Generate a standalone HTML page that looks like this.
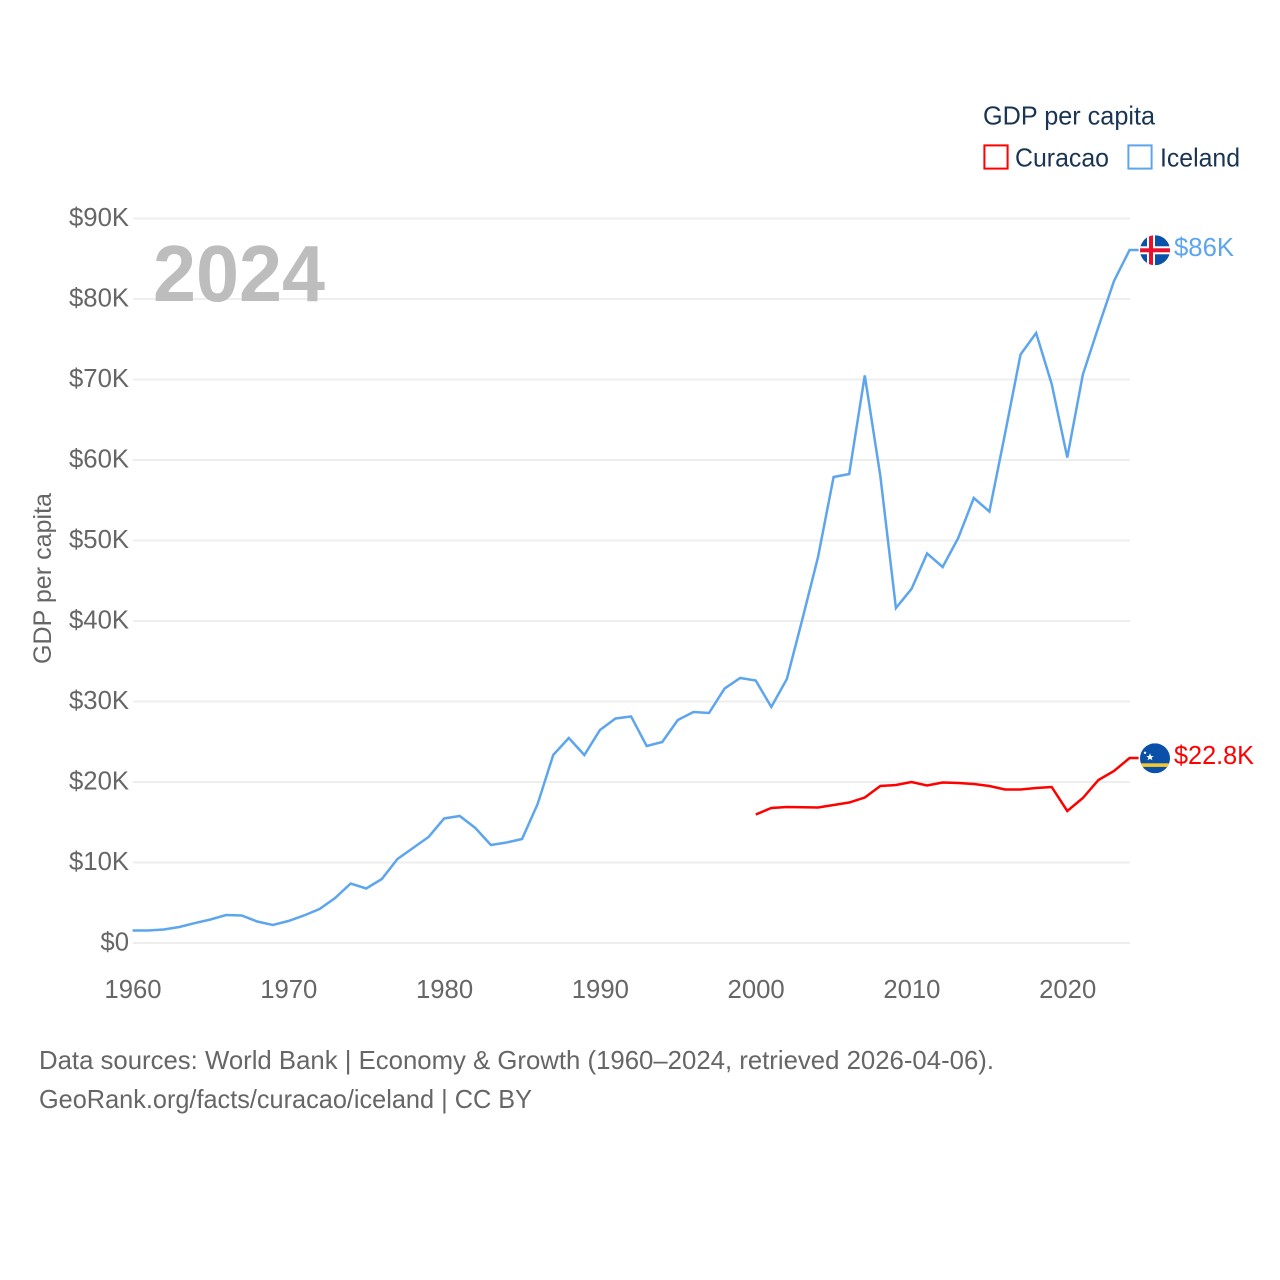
<!DOCTYPE html>
<html lang="en">
<head>
<meta charset="utf-8">
<title>GDP per capita: Curacao and Iceland</title>
<style>
html,body{margin:0;padding:0;background:#fff;}
svg{display:block;}
text{font-family:"Liberation Sans",sans-serif;}
</style>
</head>
<body>
<svg id="chart" xmlns="http://www.w3.org/2000/svg" width="1280" height="1280" viewBox="0 0 1280 1280">
  <defs>
    <clipPath id="clip-circle"><circle cx="0" cy="0" r="15"/></clipPath>
  </defs>
  <rect x="0" y="0" width="1280" height="1280" fill="#fff"/>
  <g id="grid"></g>
  <text x="153" y="301" font-size="80" font-weight="700" fill="#bdbdbd" textLength="172" lengthAdjust="spacingAndGlyphs">2024</text>
  <g id="yticks"></g>
  <g id="xticks"></g>
  <text transform="translate(51,664) rotate(-90)" font-size="25" fill="#666" textLength="171" lengthAdjust="spacingAndGlyphs">GDP per capita</text>
  <g id="series"></g>

  <g id="flag-iceland">
    <g clip-path="url(#clip-circle)">
      <rect x="-15" y="-15" width="30" height="30" fill="#0a52a8"/>
      <rect x="-8" y="-15" width="8" height="30" fill="#fff"/>
      <rect x="-15" y="-4" width="30" height="8" fill="#fff"/>
      <rect x="-6" y="-15" width="4" height="30" fill="#e8112d"/>
      <rect x="-15" y="-2" width="30" height="4" fill="#e8112d"/>
    </g>
  </g>
  <g id="flag-curacao">
    <g clip-path="url(#clip-circle)">
      <rect x="-15" y="-15" width="30" height="30" fill="#0a4fa8"/>
      <rect x="-15" y="5" width="30" height="3.6" fill="#f5c92e"/>
      <polygon points="-5,-5 -3.9,-2.3 -1.2,-2.3 -3.4,-0.7 -2.6,2 -5,0.4 -7.4,2 -6.6,-0.7 -8.8,-2.3 -6.1,-2.3" fill="#fff"/>
      <circle cx="-10" cy="-5.5" r="1.2" fill="#fff"/>
    </g>
  </g>

  <text id="label-iceland" x="1174" font-size="26" fill="#5da5ec" textLength="60" lengthAdjust="spacingAndGlyphs"></text>
  <text id="label-curacao" x="1174" font-size="26" fill="#ff0000" textLength="80" lengthAdjust="spacingAndGlyphs"></text>

  <g>
    <text x="983" y="124.5" font-size="26" fill="#1a3553" textLength="172" lengthAdjust="spacingAndGlyphs">GDP per capita</text>
    <g>
      <rect x="984.4" y="145.4" width="23.2" height="23.2" fill="#fff" stroke="#ff0000" stroke-width="2"/>
      <text x="1015" y="166.5" font-size="26" fill="#1a3553" textLength="94" lengthAdjust="spacingAndGlyphs">Curacao</text>
    </g>
    <g>
      <rect x="1128.4" y="145.4" width="23.2" height="23.2" fill="#fff" stroke="#5da5ec" stroke-width="2"/>
      <text x="1160" y="166.5" font-size="26" fill="#1a3553" textLength="80" lengthAdjust="spacingAndGlyphs">Iceland</text>
    </g>
  </g>

  <g>
    <text x="39" y="1069" font-size="26" fill="#666" textLength="955" lengthAdjust="spacingAndGlyphs">Data sources: World Bank | Economy &amp; Growth (1960–2024, retrieved 2026-04-06).</text>
    <text x="39" y="1108" font-size="26" fill="#666" textLength="493" lengthAdjust="spacingAndGlyphs">GeoRank.org/facts/curacao/iceland | CC BY</text>
  </g>
</svg>
<script>
var icelandStartYear = 1960;
var curacaoStartYear = 2000;
var icelandValues = [1.55,1.55,1.68,1.99,2.48,2.92,3.48,3.42,2.67,2.24,2.73,3.42,4.22,5.59,7.39,6.77,7.95,10.43,11.80,13.17,15.47,15.78,14.29,12.17,12.48,12.92,17.27,23.35,25.47,23.35,26.46,27.89,28.14,24.47,24.97,27.70,28.70,28.57,31.61,32.92,32.61,29.32,32.80,40.25,47.95,57.89,58.26,70.50,58.01,41.61,43.98,48.39,46.71,50.31,55.28,53.60,63.23,73.11,75.78,69.44,60.31,70.62,76.52,82.24,86.09];
var curacaoValues = [15.96,16.77,16.89,16.86,16.83,17.14,17.45,18.07,19.50,19.63,20.00,19.57,19.94,19.88,19.75,19.50,19.07,19.07,19.25,19.38,16.40,18.01,20.25,21.37,22.98];
var yTickValues = [0,10,20,30,40,50,60,70,80,90];
var yTickLabels = ["$0","$10K","$20K","$30K","$40K","$50K","$60K","$70K","$80K","$90K"];
var xTickValues = [1960,1970,1980,1990,2000,2010,2020];
var xTickLabels = ["1960","1970","1980","1990","2000","2010","2020"];
var icelandEndLabel = "$86K";
var curacaoEndLabel = "$22.8K";

var NS = "http://www.w3.org/2000/svg";
function xScale(year){ return 132.6 + (year - 1960) * 15.578; }
function yScale(val){ return 943 - val * 8.05; }

var gridG = document.getElementById("grid");
var yG = document.getElementById("yticks");
yTickValues.forEach(function(v,i){
  var ln = document.createElementNS(NS,"line");
  
  
  ln.setAttribute("x1",133);
  ln.setAttribute("x2",1130);
  ln.setAttribute("y1",yScale(v));
  ln.setAttribute("y2",yScale(v));
  ln.setAttribute("stroke","#eeeeee");
  ln.setAttribute("stroke-width","2");
  gridG.appendChild(ln);
  var t = document.createElementNS(NS,"text");
  
  
  t.setAttribute("x",129);
  t.setAttribute("y",yScale(v)+7.7);
  t.setAttribute("text-anchor","end");
  t.setAttribute("font-size","25.7");
  t.setAttribute("fill","#666");
  t.textContent = yTickLabels[i];
  yG.appendChild(t);
});

var xG = document.getElementById("xticks");
xTickValues.forEach(function(v,i){
  var t = document.createElementNS(NS,"text");
  
  
  t.setAttribute("x",xScale(v)+0.4);
  t.setAttribute("y",998);
  t.setAttribute("text-anchor","middle");
  t.setAttribute("font-size","25.7");
  t.setAttribute("fill","#666");
  t.textContent = xTickLabels[i];
  xG.appendChild(t);
});

var seriesG = document.getElementById("series");
function drawLine(values,startYear,color){
  var pts = values.map(function(v,i){ return xScale(startYear+i).toFixed(2)+","+yScale(v).toFixed(2); });
  var last = values[values.length-1];
  pts.push((xScale(startYear+values.length-1)+9).toFixed(2)+","+yScale(last).toFixed(2));
  var p = document.createElementNS(NS,"polyline");
  
  
  p.setAttribute("points",pts.join(" "));
  p.setAttribute("fill","none");
  p.setAttribute("stroke",color);
  p.setAttribute("stroke-width","2.5");
  p.setAttribute("stroke-linejoin","miter");
  seriesG.appendChild(p);
}
drawLine(icelandValues,icelandStartYear,"#5da5ec");
drawLine(curacaoValues,curacaoStartYear,"#ff0000");

function placeEnd(flagId,labelId,values,labelText){
  var yy = yScale(values[values.length-1]);
  document.getElementById(flagId).setAttribute("transform","translate(1155,"+(yy+0.3).toFixed(2)+")");
  var l = document.getElementById(labelId);
  l.setAttribute("y",(yy+6).toFixed(2));
  l.textContent = labelText;
}
placeEnd("flag-iceland","label-iceland",icelandValues,icelandEndLabel);
placeEnd("flag-curacao","label-curacao",curacaoValues,curacaoEndLabel);
</script>
</body>
</html>
